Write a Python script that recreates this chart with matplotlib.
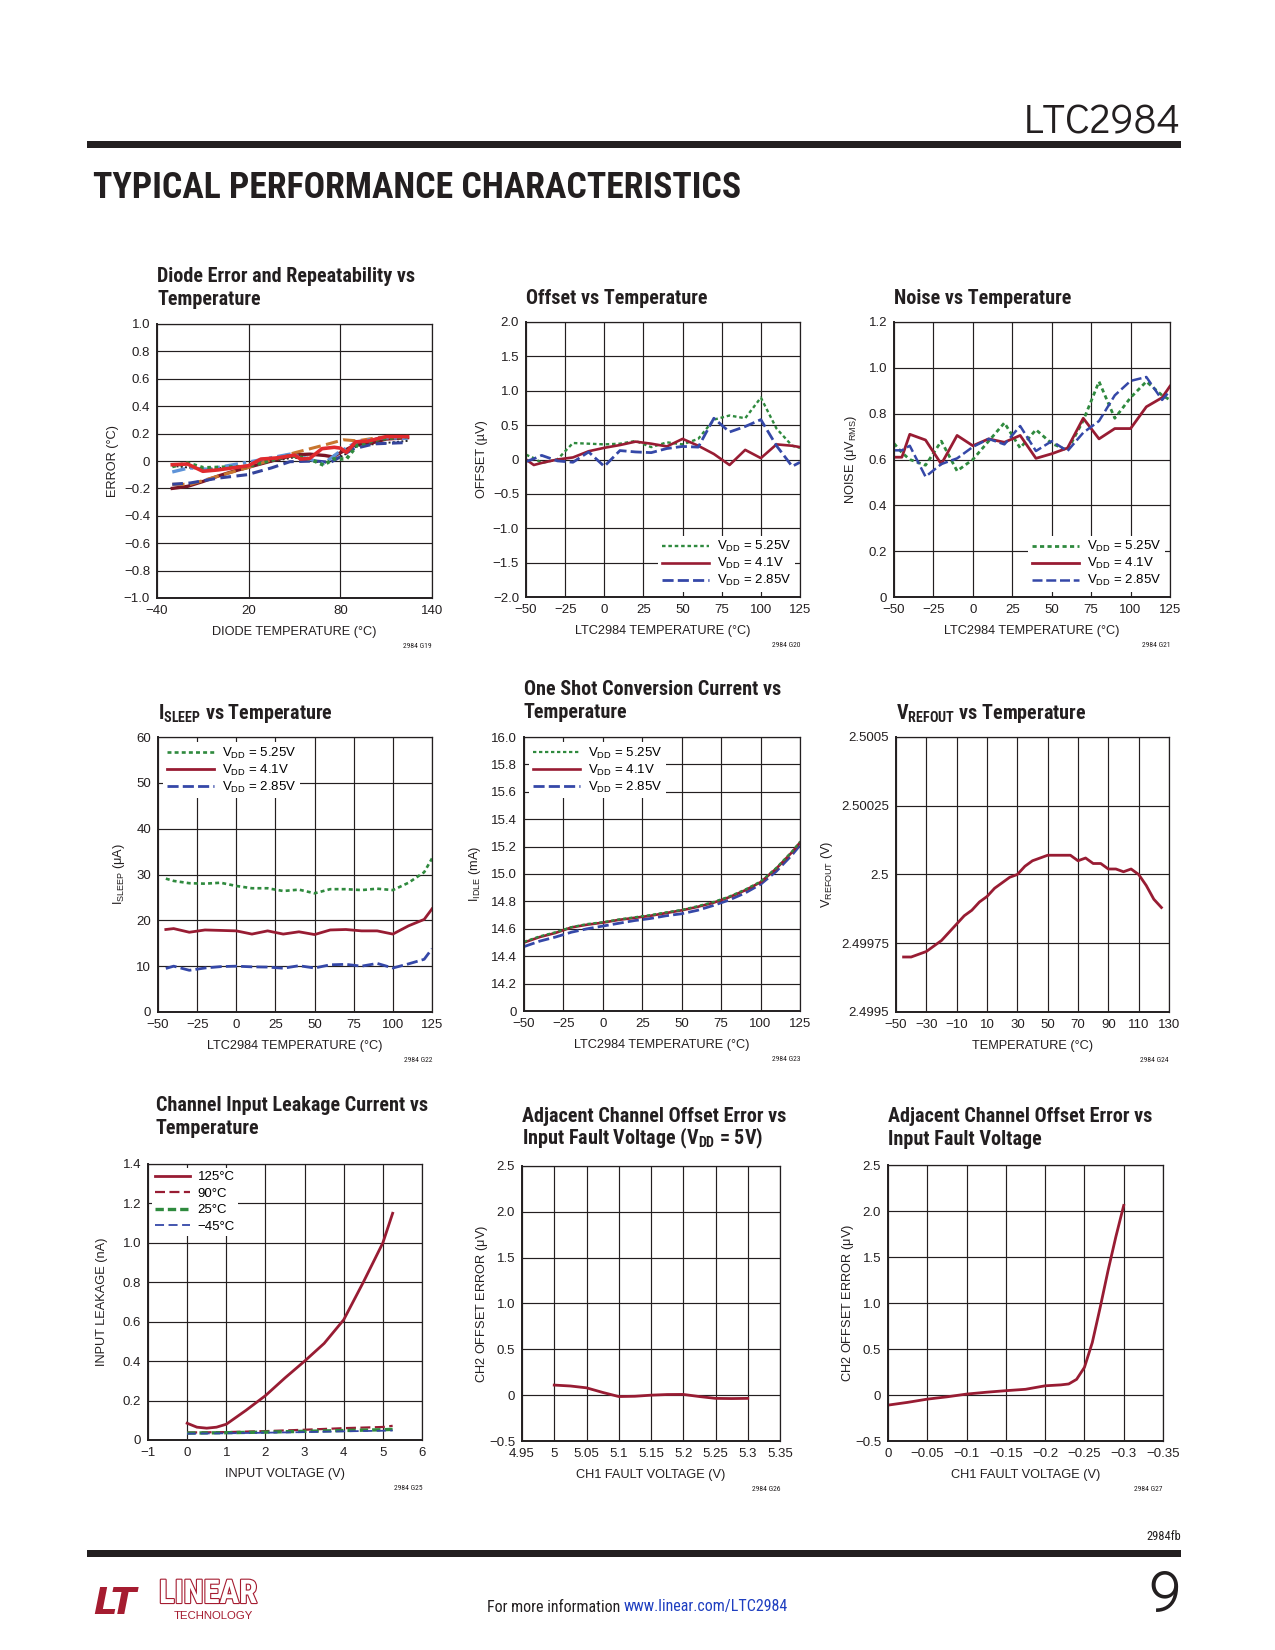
import matplotlib
matplotlib.use('Agg')
import matplotlib.pyplot as plt
from matplotlib.patches import Rectangle
import matplotlib.patheffects as pe
from matplotlib import font_manager as fm

AVAIL = {f.name for f in fm.fontManager.ttflist}


def pick(cands, default):
    for c in cands:
        if c in AVAIL:
            return c
    return default


COND = pick(['Liberation Sans Narrow', 'Roboto Condensed', 'Archivo Narrow', 'PT Sans Narrow',
             'Barlow Semi Condensed', 'Fira Sans Condensed', 'IBM Plex Sans Condensed',
             'Asap Condensed', 'Encode Sans Condensed', 'Sofia Sans Condensed', 'Roboto'], 'Liberation Sans')
GEO = pick(['Didact Gothic', 'Questrial', 'Poppins', 'Montserrat', 'Lato'], 'DejaVu Sans')

SANS = ['Liberation Sans', 'DejaVu Sans']
NARROW = [COND, 'Liberation Sans', 'DejaVu Sans']
plt.rcParams['font.family'] = SANS
plt.rcParams['mathtext.fontset'] = 'custom'
plt.rcParams['mathtext.rm'] = 'Liberation Sans'
plt.rcParams['mathtext.it'] = 'Liberation Sans:italic'
plt.rcParams['mathtext.bf'] = COND + ':bold'

DRED = '#981c33'
GREEN = '#2f8a3e'
BLUE = '#3548a8'
INK = '#231f20'

# ---------------- DATA ----------------
# Chart 1: Diode error vs temperature
d_red_t = [-30, -20, -10, 0, 20, 28, 38, 50, 54, 60, 68, 76, 80, 84, 90, 98, 110, 124]
d_red_e = [-0.027, -0.022, -0.075, -0.065, -0.034, 0.014, 0.022, 0.043, 0.014, 0.019, 0.09, 0.10, 0.094, 0.063, 0.14, 0.145, 0.178, 0.178]
d_dred_t = [-30, -20, -10, 0, 10, 20, 35, 50, 60, 70, 75, 80, 85, 90, 100, 110, 124]
d_dred_e = [-0.20, -0.185, -0.15, -0.11, -0.075, -0.045, 0.0, 0.045, 0.05, 0.04, 0.03, 0.06, 0.09, 0.12, 0.13, 0.16, 0.17]
d_orng_t = [-30, -18, 0, 19, 35, 50, 69, 82, 91, 106, 124]
d_orng_e = [-0.17, -0.17, -0.11, -0.05, 0.01, 0.06, 0.115, 0.155, 0.147, 0.173, 0.178]
d_blue_t = [-30, -18, 0, 19, 35, 47, 64, 73.5, 80, 88, 102, 124]
d_blue_e = [-0.17, -0.16, -0.125, -0.1, -0.05, -0.005, 0.0, -0.01, 0.03, 0.087, 0.125, 0.135]
d_lblu_t = [-30, -19, -7, 19, 47, 58, 69, 78.5, 91, 108, 124]
d_lblu_e = [-0.08, -0.05, -0.06, -0.01, 0.05, 0.02, -0.02, 0.06, 0.14, 0.17, 0.165]
d_grn_t = [-30, -20, -9.5, 19, 47, 60, 69, 75.6, 84, 91, 106, 124]
d_grn_e = [-0.04, -0.015, -0.05, -0.04, 0.04, 0.015, -0.03, 0.015, 0.015, 0.115, 0.16, 0.178]
d_blk_t = [-30, -9.5, 19, 49.5, 69, 82, 91, 108, 124]
d_blk_e = [-0.035, -0.06, -0.035, 0.026, -0.015, 0.04, 0.11, 0.13, 0.147]

# Chart 2: Offset vs temperature
off_t = [-50, -45, -40, -30, -20, -10, 0, 10, 20, 30, 40, 50, 60, 70, 80, 90, 100, 110, 120, 125]
off_525 = [0.07, 0.02, -0.05, 0.0, 0.24, 0.23, 0.22, 0.23, 0.27, 0.18, 0.25, 0.22, 0.30, 0.58, 0.64, 0.60, 0.90, 0.45, 0.20, 0.17]
off_41 = [0.0, -0.08, -0.05, 0.0, 0.03, 0.12, 0.17, 0.21, 0.26, 0.23, 0.19, 0.30, 0.20, 0.08, -0.08, 0.14, 0.02, 0.22, 0.20, 0.18]
off_285 = [-0.03, 0.01, 0.06, -0.02, -0.04, 0.11, -0.10, 0.13, 0.11, 0.10, 0.16, 0.19, 0.18, 0.60, 0.40, 0.48, 0.58, 0.20, -0.10, -0.04]

# Chart 3: Noise vs temperature
noi_t = [-50, -45, -40, -30, -20, -10, 0, 10, 20, 30, 40, 50, 60, 70, 80, 90, 100, 110, 120, 125]
noi_525 = [0.67, 0.63, 0.60, 0.575, 0.68, 0.55, 0.60, 0.68, 0.76, 0.65, 0.73, 0.67, 0.64, 0.77, 0.94, 0.78, 0.87, 0.94, 0.88, 0.86]
noi_41 = [0.61, 0.61, 0.71, 0.685, 0.58, 0.705, 0.66, 0.69, 0.675, 0.705, 0.605, 0.625, 0.65, 0.78, 0.69, 0.735, 0.735, 0.83, 0.87, 0.92]
noi_285 = [0.64, 0.64, 0.66, 0.525, 0.58, 0.605, 0.655, 0.69, 0.666, 0.746, 0.637, 0.68, 0.637, 0.717, 0.768, 0.88, 0.943, 0.96, 0.86, 0.90]

# Chart 4: ISLEEP vs temperature
slp_t = [-45, -40, -30, -20, -10, 0, 10, 20, 30, 40, 50, 60, 70, 80, 90, 100, 110, 120, 125]
slp_525 = [29.1, 28.6, 28.1, 28.0, 28.2, 27.5, 27.0, 27.0, 26.4, 26.7, 25.9, 26.8, 26.8, 26.6, 26.9, 26.6, 28.2, 30.5, 33.5]
slp_41 = [18.0, 18.2, 17.4, 17.9, 17.8, 17.7, 17.0, 17.7, 17.0, 17.5, 16.9, 17.9, 18.0, 17.7, 17.7, 17.0, 18.8, 20.2, 22.5]
slp_285 = [9.5, 10.0, 9.1, 9.6, 9.9, 10.0, 9.85, 9.8, 9.55, 10.1, 9.6, 10.3, 10.4, 10.0, 10.6, 9.6, 10.5, 11.5, 13.8]

# Chart 5: One shot conversion current vs temperature
idl_t = [-50, -40, -30, -20, -10, 0, 10, 20, 30, 40, 50, 60, 70, 80, 90, 100, 110, 120, 125]
idl_525 = [14.505, 14.545, 14.575, 14.612, 14.635, 14.648, 14.668, 14.684, 14.70, 14.72, 14.738, 14.765, 14.795, 14.835, 14.885, 14.945, 15.045, 15.165, 15.235]
idl_41 = [14.50, 14.54, 14.57, 14.61, 14.63, 14.645, 14.665, 14.68, 14.695, 14.715, 14.735, 14.76, 14.79, 14.83, 14.88, 14.94, 15.04, 15.16, 15.23]
idl_285 = [14.47, 14.51, 14.54, 14.575, 14.60, 14.62, 14.64, 14.66, 14.675, 14.695, 14.71, 14.735, 14.77, 14.81, 14.86, 14.925, 15.02, 15.14, 15.21]

# Chart 6: VREFOUT vs temperature
ref_t = [-45, -40, -35, -30, -25, -20, -15, -10, -5, 0, 5, 10, 15, 20, 25, 30, 35, 40, 45, 50, 55, 60, 65,
         70, 75, 80, 85, 90, 95, 100, 105, 110, 115, 120, 125]
ref_v = [2.49970, 2.49970, 2.49971, 2.49972, 2.49974, 2.49976, 2.49979, 2.49982, 2.49985, 2.49987, 2.49990,
         2.49992, 2.49995, 2.49997, 2.49999, 2.50000, 2.50003, 2.50005, 2.50006, 2.50007, 2.50007, 2.50007,
         2.50007, 2.50005, 2.50006, 2.50004, 2.50004, 2.50002, 2.50002, 2.50001, 2.50002, 2.50000, 2.49996,
         2.49991, 2.49988]

# Chart 7: Channel input leakage
lk_v125 = [0, 0.25, 0.5, 0.75, 1, 1.5, 2, 2.5, 3, 3.5, 4, 4.5, 5, 5.25]
lk_125 = [0.085, 0.065, 0.06, 0.065, 0.08, 0.15, 0.225, 0.315, 0.40, 0.49, 0.61, 0.80, 1.0, 1.15]
lk_v = [0, 1, 2, 3, 4, 5, 5.25]
lk_90 = [0.038, 0.040, 0.045, 0.052, 0.060, 0.066, 0.072]
lk_25 = [0.035, 0.037, 0.040, 0.044, 0.048, 0.052, 0.054]
lk_m45 = [0.032, 0.034, 0.037, 0.040, 0.044, 0.047, 0.048]

# Chart 8: Adjacent channel offset error vs fault voltage (VDD = 5V)
ad1_v = [5.0, 5.025, 5.05, 5.075, 5.1, 5.125, 5.15, 5.175, 5.2, 5.225, 5.25, 5.275, 5.3]
ad1_e = [0.11, 0.10, 0.08, 0.03, -0.015, -0.012, 0.0, 0.007, 0.008, -0.015, -0.035, -0.037, -0.035]

# Chart 9: Adjacent channel offset error vs negative fault voltage
ad2_v = [0, -0.025, -0.05, -0.075, -0.1, -0.125, -0.15, -0.175, -0.2, -0.21, -0.22, -0.23, -0.24, -0.25,
         -0.26, -0.27, -0.28, -0.29, -0.3]
ad2_e = [-0.11, -0.08, -0.045, -0.02, 0.01, 0.03, 0.047, 0.062, 0.10, 0.105, 0.11, 0.12, 0.17, 0.30, 0.57,
         0.95, 1.35, 1.72, 2.06]

# Tick labels
t1_x = [-40, 20, 80, 140]; t1_xl = ['\u221240', '20', '80', '140']
t1_y = [-1.0, -0.8, -0.6, -0.4, -0.2, 0, 0.2, 0.4, 0.6, 0.8, 1.0]
t1_yl = ['\u22121.0', '\u22120.8', '\u22120.6', '\u22120.4', '\u22120.2', '0', '0.2', '0.4', '0.6', '0.8', '1.0']
tT_x = [-50, -25, 0, 25, 50, 75, 100, 125]; tT_xl = ['\u221250', '\u221225', '0', '25', '50', '75', '100', '125']
t2_y = [-2.0, -1.5, -1.0, -0.5, 0, 0.5, 1.0, 1.5, 2.0]
t2_yl = ['\u22122.0', '\u22121.5', '\u22121.0', '\u22120.5', '0', '0.5', '1.0', '1.5', '2.0']
t3_y = [0, 0.2, 0.4, 0.6, 0.8, 1.0, 1.2]; t3_yl = ['0', '0.2', '0.4', '0.6', '0.8', '1.0', '1.2']
t4_y = [0, 10, 20, 30, 40, 50, 60]; t4_yl = ['0', '10', '20', '30', '40', '50', '60']
t5_y = [14.0, 14.2, 14.4, 14.6, 14.8, 15.0, 15.2, 15.4, 15.6, 15.8, 16.0]
t5_yl = ['0', '14.2', '14.4', '14.6', '14.8', '15.0', '15.2', '15.4', '15.6', '15.8', '16.0']
t6_x = [-50, -30, -10, 10, 30, 50, 70, 90, 110, 130]
t6_xl = ['\u221250', '\u221230', '\u221210', '10', '30', '50', '70', '90', '110', '130']
t6_y = [2.4995, 2.49975, 2.5, 2.50025, 2.5005]; t6_yl = ['2.4995', '2.49975', '2.5', '2.50025', '2.5005']
t7_x = [-1, 0, 1, 2, 3, 4, 5, 6]; t7_xl = ['\u22121', '0', '1', '2', '3', '4', '5', '6']
t7_y = [0, 0.2, 0.4, 0.6, 0.8, 1.0, 1.2, 1.4]; t7_yl = ['0', '0.2', '0.4', '0.6', '0.8', '1.0', '1.2', '1.4']
t8_x = [4.95, 5.0, 5.05, 5.1, 5.15, 5.2, 5.25, 5.3, 5.35]
t8_xl = ['4.95', '5', '5.05', '5.1', '5.15', '5.2', '5.25', '5.3', '5.35']
t8_y = [-0.5, 0, 0.5, 1.0, 1.5, 2.0, 2.5]; t8_yl = ['\u22120.5', '0', '0.5', '1.0', '1.5', '2.0', '2.5']
t9_x = [0, -0.05, -0.1, -0.15, -0.2, -0.25, -0.3, -0.35]
t9_xl = ['0', '\u22120.05', '\u22120.1', '\u22120.15', '\u22120.2', '\u22120.25', '\u22120.3', '\u22120.35']

VDD_LABELS = [r'V$_{\mathrm{DD}}$ = 5.25V', r'V$_{\mathrm{DD}}$ = 4.1V', r'V$_{\mathrm{DD}}$ = 2.85V']
LEAK_LABELS = ['125\u00b0C', '90\u00b0C', '25\u00b0C', '\u221245\u00b0C']

# ---------------- FIGURE ----------------
W, H = 1275, 1650
fig = plt.figure(figsize=(12.75, 16.5), dpi=100)
fig.patch.set_facecolor('white')
RENDERER = fig.canvas.get_renderer()


def ftext(x, y, s, **kw):
    return fig.text(x / W, 1 - y / H, s, **kw)


def fit_width(t, target):
    w = t.get_window_extent(renderer=RENDERER).width
    if w > 0:
        t.set_fontsize(t.get_fontsize() * target / w)
    return t.get_fontsize()


def frect(x0, y0, x1, y1, color=INK):
    fig.add_artist(Rectangle((x0 / W, 1 - y1 / H), (x1 - x0) / W, (y1 - y0) / H,
                             transform=fig.transFigure, facecolor=color, edgecolor='none'))


# calibrate the chart-title size so that the first title is ~260 px wide
_cal = ftext(0, 0, 'Diode Error and Repeatability vs', fontfamily=NARROW, fontweight='bold', fontsize=13.5)
TITLE_FS = min(fit_width(_cal, 260), 14.5)
_cal.remove()


def make_ax(box, xlim, ylim, xt, xtl, yt, ytl, title_lines, title_y, xlabel, ylabel, ylab_dx, code,
            title_dx=0):
    l, t, r, b = box
    ax = fig.add_axes([l / W, 1 - b / H, (r - l) / W, (b - t) / H])
    ax.set_xlim(xlim)
    ax.set_ylim(ylim)
    ax.set_xticks(xt)
    ax.set_xticklabels(xtl)
    ax.set_yticks(yt)
    ax.set_yticklabels(ytl)
    ax.grid(True, color=INK, lw=0.85)
    ax.set_axisbelow(True)
    ax.tick_params(axis='both', length=0, labelsize=9.5, colors=INK)
    ax.tick_params(axis='x', pad=5)
    ax.tick_params(axis='y', pad=5)
    for side, sp in ax.spines.items():
        sp.set_color(INK)
        sp.set_linewidth(1.4 if side in ('left', 'bottom') else 0.9)
    for i, line in enumerate(title_lines):
        ftext(l + title_dx, title_y + i * 22.7, line, fontfamily=NARROW, fontweight='bold',
              fontsize=TITLE_FS, color=INK, va='baseline', ha='left')
    ftext((l + r) / 2, b + 34, xlabel, fontsize=9.2, color=INK, ha='center', va='center')
    ftext(l - ylab_dx, (t + b) / 2, ylabel, fontsize=9.2, color=INK, ha='center', va='center',
          rotation=90)
    ftext(r, b + 48, code, fontfamily=NARROW, fontsize=5.5, color=INK, ha='right', va='center')
    return ax


LS_G = (0, (1.5, 1.2))
LS_B = (0, (4, 1.5))


def vdd_legend(ax, loc, handles=None, labels=None):
    kw = dict(loc=loc, fontsize=9.5, frameon=True, facecolor='white', edgecolor='none', framealpha=1,
              fancybox=False, handlelength=3.6, handletextpad=0.6, labelspacing=0.15,
              borderpad=0.25, borderaxespad=0.4)
    if handles is None:
        ax.legend(**kw)
    else:
        ax.legend(handles, labels, **kw)


# Header
hdr = ftext(1181, 133, 'LTC2984', fontfamily=[GEO, 'DejaVu Sans'], fontsize=27, color=INK,
            ha='right', va='baseline')
fit_width(hdr, 157)
frect(87, 141, 1181, 148)
sec = ftext(93, 198, 'TYPICAL PERFORMANCE CHARACTERISTICS', fontfamily=NARROW, fontweight='bold',
            fontsize=23, color=INK, ha='left', va='baseline')
fit_width(sec, 650)

# Chart 1
ax1 = make_ax((157, 324, 432, 598), (-40, 140), (-1, 1), t1_x, t1_xl, t1_y, t1_yl,
              ['Diode Error and Repeatability vs', 'Temperature'], 282,
              'DIODE TEMPERATURE (\u00b0C)', 'ERROR (\u00b0C)', 44, '2984 G19')
ax1.plot(d_blk_t, d_blk_e, color='#222222', lw=1.4, ls=(0, (1, 1.2)))
ax1.plot(d_dred_t, d_dred_e, color='#7a1626', lw=2.4)
ax1.plot(d_orng_t, d_orng_e, color='#c8762f', lw=2.2, ls=(0, (4, 1.8)))
ax1.plot(d_blue_t, d_blue_e, color='#34449c', lw=2.2, ls=(0, (3.5, 1.8)))
ax1.plot(d_lblu_t, d_lblu_e, color='#5e93d8', lw=2.4, ls=(0, (4, 1.5, 1, 1.5)))
ax1.plot(d_grn_t, d_grn_e, color=GREEN, lw=2.6, ls=(0, (1, 1)))
ax1.plot(d_red_t, d_red_e, color='#e12a2e', lw=2.6)

# Chart 2
ax2 = make_ax((526, 322, 800, 597), (-50, 125), (-2, 2), tT_x, tT_xl, t2_y, t2_yl,
              ['Offset vs Temperature'], 304, 'LTC2984 TEMPERATURE (\u00b0C)', 'OFFSET (\u00b5V)', 44,
              '2984 G20')
ax2.plot(off_t, off_525, color=GREEN, lw=1.7, ls=LS_G, label=VDD_LABELS[0])
ax2.plot(off_t, off_41, color=DRED, lw=1.9, label=VDD_LABELS[1])
ax2.plot(off_t, off_285, color=BLUE, lw=2.0, ls=LS_B, label=VDD_LABELS[2])
vdd_legend(ax2, 'lower right')

# Chart 3
ax3 = make_ax((894, 322, 1170, 597), (-50, 125), (0, 1.2), tT_x, tT_xl, t3_y, t3_yl,
              ['Noise vs Temperature'], 304, 'LTC2984 TEMPERATURE (\u00b0C)',
              r'NOISE ($\mathrm{\mu}$V$_{\mathrm{RMS}}$)', 43, '2984 G21')
ax3.plot(noi_t, noi_525, color=GREEN, lw=2.0, ls=LS_G, label=VDD_LABELS[0])
ax3.plot(noi_t, noi_41, color=DRED, lw=2.0, label=VDD_LABELS[1])
ax3.plot(noi_t, noi_285, color=BLUE, lw=1.8, ls=LS_B, label=VDD_LABELS[2])
vdd_legend(ax3, 'lower right')

# Chart 4
ax4 = make_ax((158, 737, 432, 1012), (-50, 125), (0, 60), tT_x, tT_xl, t4_y, t4_yl,
              [r'I$_{\mathbf{SLEEP}}$ vs Temperature'], 719, 'LTC2984 TEMPERATURE (\u00b0C)',
              r'I$_{\mathrm{SLEEP}}$ ($\mathrm{\mu}$A)', 39, '2984 G22')
ax4.plot(slp_t, slp_525, color=GREEN, lw=1.9, ls=LS_G, label=VDD_LABELS[0])
ax4.plot(slp_t, slp_41, color=DRED, lw=2.0, label=VDD_LABELS[1])
ax4.plot(slp_t, slp_285, color=BLUE, lw=2.0, ls=LS_B, label=VDD_LABELS[2])
vdd_legend(ax4, 'upper left')

# Chart 5
ax5 = make_ax((524, 737, 800, 1011), (-50, 125), (14.0, 16.0), tT_x, tT_xl, t5_y, t5_yl,
              ['One Shot Conversion Current vs', 'Temperature'], 695, 'LTC2984 TEMPERATURE (\u00b0C)',
              r'I$_{\mathrm{IDLE}}$ (mA)', 49, '2984 G23')
ax5.plot(idl_t, idl_285, color=BLUE, lw=2.0, ls=LS_B, label=VDD_LABELS[2])
ax5.plot(idl_t, idl_41, color=DRED, lw=1.9, label=VDD_LABELS[1])
ax5.plot(idl_t, idl_525, color=GREEN, lw=1.6, ls=LS_G, label=VDD_LABELS[0])
h5, l5 = ax5.get_legend_handles_labels()
vdd_legend(ax5, 'upper left', [h5[2], h5[1], h5[0]], [l5[2], l5[1], l5[0]])

# Chart 6
ax6 = make_ax((896, 737, 1169, 1012), (-50, 130), (2.4995, 2.5005), t6_x, t6_xl, t6_y, t6_yl,
              [r'V$_{\mathbf{REFOUT}}$ vs Temperature'], 719, 'TEMPERATURE (\u00b0C)',
              r'V$_{\mathrm{REFOUT}}$ (V)', 69, '2984 G24')
ax6.plot(ref_t, ref_v, color=DRED, lw=2.0)

# Chart 7
ax7 = make_ax((148, 1164, 422, 1440), (-1, 6), (0, 1.4), t7_x, t7_xl, t7_y, t7_yl,
              ['Channel Input Leakage Current vs', 'Temperature'], 1111, 'INPUT VOLTAGE (V)',
              'INPUT LEAKAGE (nA)', 46, '2984 G25', title_dx=8)
ax7.plot(lk_v125, lk_125, color=DRED, lw=2.0, label=LEAK_LABELS[0])
ax7.plot(lk_v, lk_90, color=DRED, lw=1.6, ls=(0, (4.5, 2)), label=LEAK_LABELS[1])
ax7.plot(lk_v, lk_25, color=GREEN, lw=2.4, ls=(0, (2.5, 1.2)), label=LEAK_LABELS[2])
ax7.plot(lk_v, lk_m45, color=BLUE, lw=1.3, ls=(0, (5, 2.5)), label=LEAK_LABELS[3])
ax7.legend(loc='upper left', fontsize=9.5, frameon=True, facecolor='white', edgecolor='none',
           framealpha=1, fancybox=False, handlelength=2.6, handletextpad=0.6, labelspacing=0.32,
           borderpad=0.25, borderaxespad=0.3)

# Chart 8
ax8 = make_ax((522, 1166, 780, 1441), (4.95, 5.35), (-0.5, 2.5), t8_x, t8_xl, t8_y, t8_yl,
              ['Adjacent Channel Offset Error vs', r'Input Fault Voltage (V$_{\mathbf{DD}}$ = 5V)'], 1122,
              'CH1 FAULT VOLTAGE (V)', r'CH2 OFFSET ERROR ($\mathrm{\mu}$V)', 40, '2984 G26')
ax8.plot(ad1_v, ad1_e, color=DRED, lw=2.0)

# Chart 9
ax9 = make_ax((888, 1165, 1163, 1441), (0, -0.35), (-0.5, 2.5), t9_x, t9_xl, t8_y, t8_yl,
              ['Adjacent Channel Offset Error vs', 'Input Fault Voltage'], 1122,
              'CH1 FAULT VOLTAGE (V)', r'CH2 OFFSET ERROR ($\mathrm{\mu}$V)', 40, '2984 G27')
ax9.plot(ad2_v, ad2_e, color=DRED, lw=2.0)

# Footer
ftext(1181, 1537, '2984fb', fontfamily=NARROW, fontsize=9, color=INK, ha='right', va='center')
frect(87, 1550, 1181, 1557)
nine = ftext(1181, 1611, '9', fontfamily=[GEO, 'DejaVu Sans'], fontsize=42, color=INK,
             ha='right', va='baseline')
t_info = ftext(487, 1607, 'For more information ', fontfamily=NARROW, fontsize=11, color=INK,
               ha='left', va='center')
t_link = ftext(700, 1607, 'www.linear.com/LTC2984', fontfamily=NARROW, fontsize=11,
               color='#1f3fc0', ha='left', va='center')
w1 = t_info.get_window_extent(renderer=RENDERER).width
w2 = t_link.get_window_extent(renderer=RENDERER).width
k = 303.0 / (w1 + w2)
t_info.set_fontsize(11 * k)
t_link.set_fontsize(11 * k)
bb = t_info.get_window_extent(renderer=RENDERER)
t_link.set_x(bb.x1 / W)

LOGO_RED = '#a51c30'
ftext(93, 1614, 'LT', fontfamily=['DejaVu Sans'], fontweight='bold', fontstyle='italic', fontsize=27,
      color=LOGO_RED, ha='left', va='baseline')
lin = ftext(159, 1603, 'LINEAR', fontfamily=NARROW, fontweight='bold', fontsize=22, color='white',
            ha='left', va='baseline',
            path_effects=[pe.withStroke(linewidth=1.6, foreground=LOGO_RED)])
fit_width(lin, 98)
lin_bb = lin.get_window_extent(renderer=RENDERER)
tech = ftext(174, 1611, 'TECHNOLOGY', fontfamily=SANS, fontsize=6.3, color=LOGO_RED, ha='left',
             va='top')
fit_width(tech, 80)
tech.set_y(min(1 - 1611 / H, (lin_bb.y0 - 1) / H))

fig.savefig('out.png', dpi=100, facecolor='white')
